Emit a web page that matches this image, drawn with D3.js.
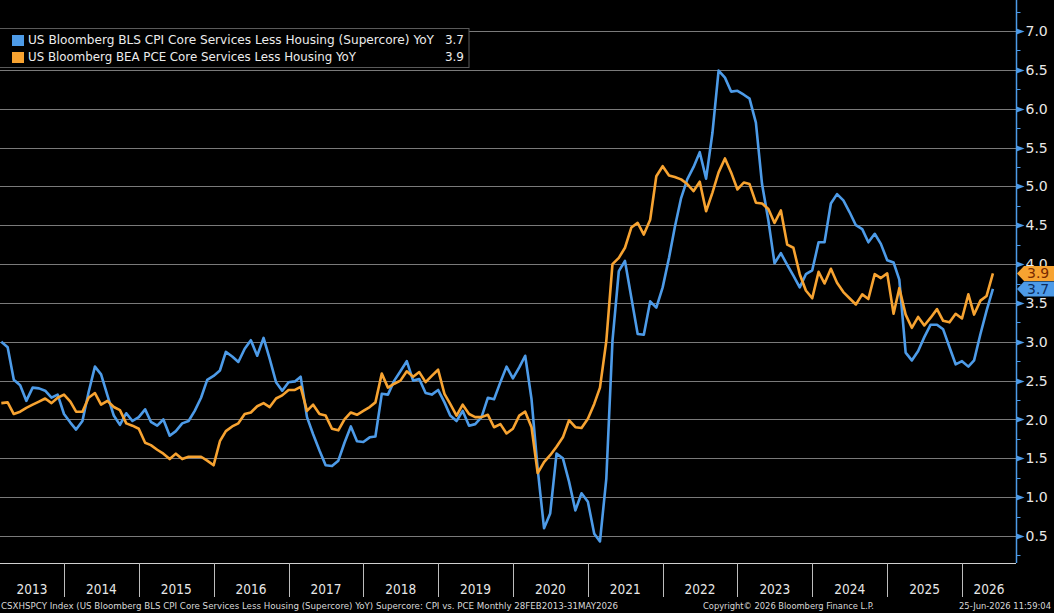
<!DOCTYPE html>
<html>
<head>
<meta charset="utf-8">
<script src="https://cdn.jsdelivr.net/npm/d3@7"></script>
<style>
  body { margin: 0; background: #000; }
  svg { display: block; }
</style>
</head>
<body>
<div id="chart"></div>
<script>
// monthly data, Feb 2013 .. May 2026
const firstMonth = new Date(Date.UTC(2013, 1, 1));
const cpiValues = [
  3.00, 2.93, 2.51, 2.44, 2.24, 2.41, 2.40, 2.37, 2.28, 2.32, 2.07,
  1.96, 1.87, 1.98, 2.35, 2.68, 2.58, 2.31, 2.05, 1.93, 2.08, 1.98, 2.03,
  2.13, 1.97, 1.92, 2.00, 1.79, 1.85, 1.95, 1.98, 2.11, 2.28, 2.51, 2.56,
  2.63, 2.87, 2.81, 2.74, 2.91, 3.02, 2.82, 3.05, 2.78, 2.48, 2.37, 2.48,
  2.49, 2.55, 2.03, 1.81, 1.60, 1.41, 1.40, 1.47, 1.70, 1.91, 1.72, 1.71,
  1.77, 1.78, 2.33, 2.32, 2.50, 2.62, 2.75, 2.50, 2.52, 2.34, 2.32, 2.38,
  2.22, 2.05, 1.98, 2.11, 1.92, 1.94, 2.03, 2.28, 2.26, 2.48, 2.68, 2.53,
  2.67, 2.82, 2.26, 1.36, 0.60, 0.79, 1.56, 1.50, 1.20, 0.83, 1.05, 0.94,
  0.53, 0.43, 1.24, 3.01, 3.91, 4.04, 3.57, 3.10, 3.09, 3.52, 3.44, 3.70,
  4.08, 4.47, 4.85, 5.09, 5.25, 5.44, 5.10, 5.69, 6.49, 6.40, 6.22, 6.23,
  6.18, 6.13, 5.82, 5.03, 4.56, 4.01, 4.14, 3.99, 3.85, 3.70, 3.87, 3.92,
  4.28, 4.28, 4.78, 4.90, 4.82, 4.67, 4.50, 4.45, 4.28, 4.39, 4.26, 4.05,
  4.02, 3.80, 2.86, 2.76, 2.88, 3.06, 3.22, 3.22, 3.16, 2.93, 2.71, 2.75,
  2.68, 2.76, 3.10, 3.40, 3.68
];
const pceValues = [
  2.21, 2.22, 2.07, 2.10, 2.15, 2.19, 2.23, 2.27, 2.21, 2.28, 2.32,
  2.23, 2.10, 2.10, 2.28, 2.34, 2.19, 2.24, 2.16, 2.12, 1.95, 1.92, 1.88,
  1.70, 1.67, 1.61, 1.56, 1.49, 1.56, 1.49, 1.52, 1.52, 1.52, 1.47, 1.41,
  1.72, 1.85, 1.91, 1.95, 2.07, 2.09, 2.17, 2.21, 2.16, 2.27, 2.31, 2.38,
  2.38, 2.42, 2.11, 2.19, 2.07, 2.05, 1.88, 1.86, 2.00, 2.09, 2.06, 2.11,
  2.16, 2.22, 2.59, 2.41, 2.46, 2.50, 2.62, 2.55, 2.61, 2.48, 2.56, 2.64,
  2.33, 2.20, 2.05, 2.19, 2.07, 2.03, 2.03, 2.06, 1.90, 1.94, 1.82, 1.88,
  2.05, 2.10, 1.90, 1.31, 1.45, 1.54, 1.65, 1.77, 1.99, 1.90, 1.89, 2.01,
  2.20, 2.41, 3.01, 4.00, 4.08, 4.21, 4.47, 4.53, 4.38, 4.57, 5.13, 5.26,
  5.14, 5.12, 5.09, 5.03, 4.94, 5.06, 4.68, 4.92, 5.18, 5.36, 5.18, 4.96,
  5.05, 5.03, 4.79, 4.78, 4.71, 4.53, 4.69, 4.25, 4.21, 3.87, 3.66, 3.56,
  3.90, 3.75, 3.94, 3.76, 3.64, 3.56, 3.48, 3.61, 3.55, 3.87, 3.82, 3.88,
  3.36, 3.69, 3.35, 3.18, 3.32, 3.21, 3.31, 3.42, 3.27, 3.25, 3.36, 3.30,
  3.61, 3.35, 3.53, 3.59, 3.88
];
const seriesNames = [
  "US Bloomberg BLS CPI Core Services Less Housing (Supercore) YoY",
  "US Bloomberg BEA PCE Core Services Less Housing YoY"
];
const seriesColors = ["#4d9be8", "#f7a331"];
const years = d3.range(2013, 2027);
const yTicks = d3.range(0.5, 7.01, 0.5);
const yMinorTicks = d3.range(0.25, 7.3, 0.25);
const footerLeft = "CSXHSPCY Index (US Bloomberg BLS CPI Core Services Less Housing (Supercore) YoY) Supercore: CPI vs. PCE Monthly 28FEB2013-31MAY2026";
const footerMid = "Copyright\u00A9 2026 Bloomberg Finance L.P.";
const footerRight = "25-Jun-2026 11:59:04";

const width = 1054, height = 613;
const plot = {left: 0, right: 1016, top: 0, bottom: 563};

// points sit at month end
const dates = cpiValues.map((d, i) => d3.utcMonth.offset(firstMonth, i + 1));
const series = [cpiValues, pceValues].map((vals, k) => ({
  name: seriesNames[k], color: seriesColors[k],
  values: vals.map((v, i) => ({date: dates[i], value: v}))
}));
const last = s => s.values[s.values.length - 1].value;

const x = d3.scaleUtc()
  .domain([new Date(Date.UTC(2014, 0, 1)), new Date(Date.UTC(2026, 0, 1))])
  .range([64, 962]);
const y = d3.scaleLinear()
  .domain([0.5, 7.0])
  .range([536, 31]);

const svg = d3.select("#chart").append("svg")
  .attr("width", width)
  .attr("height", height)
  .style("background", "#000");

const defs = svg.append("defs");
defs.append("clipPath").attr("id", "clip")
  .append("rect")
  .attr("x", plot.left).attr("y", plot.top)
  .attr("width", plot.right - plot.left).attr("height", plot.bottom - plot.top);

// grid
svg.append("g")
  .attr("stroke", "#7a7a7a")
  .attr("stroke-width", 1)
  .selectAll("line")
  .data(yTicks)
  .join("line")
  .attr("x1", plot.left)
  .attr("x2", plot.right)
  .attr("y1", d => Math.round(y(d)) + 0.5)
  .attr("y2", d => Math.round(y(d)) + 0.5);

// lines
const line = d3.line()
  .x(d => x(d.date))
  .y(d => y(d.value));

svg.append("g")
  .attr("clip-path", "url(#clip)")
  .selectAll("path")
  .data(series)
  .join("path")
  .attr("fill", "none")
  .attr("stroke", d => d.color)
  .attr("stroke-width", 2.6)
  .attr("stroke-linejoin", "round")
  .attr("d", d => line(d.values));

// bottom frame
svg.append("line")
  .attr("x1", plot.left).attr("x2", plot.right)
  .attr("y1", plot.bottom + 0.5).attr("y2", plot.bottom + 0.5)
  .attr("stroke", "#d0d0d0");

// year separators and labels
const yearEdges = years.slice(1).map(yr => new Date(Date.UTC(yr, 0, 1)));
svg.append("g")
  .attr("stroke", "#bdbdbd")
  .selectAll("line")
  .data(yearEdges)
  .join("line")
  .attr("x1", d => Math.round(x(d)) + 0.5)
  .attr("x2", d => Math.round(x(d)) + 0.5)
  .attr("y1", plot.bottom)
  .attr("y2", 597);

svg.append("g")
  .attr("font-family", "'DejaVu Sans Condensed', 'Liberation Sans Narrow', sans-serif")
  .attr("font-size", 13.5)
  .attr("fill", "#e8e8e8")
  .attr("text-anchor", "middle")
  .selectAll("text")
  .data(years)
  .join("text")
  .attr("x", yr => {
    const a = Math.max(plot.left, x(new Date(Date.UTC(yr, 0, 1))));
    const b = Math.min(plot.right, x(new Date(Date.UTC(yr + 1, 0, 1))));
    return (a + b) / 2;
  })
  .attr("y", 594)
  .text(d => d);

// right axis
const axis = svg.append("g")
  .attr("transform", `translate(${plot.right + 0.5},0)`);
axis.append("line")
  .attr("y1", 0).attr("y2", plot.bottom)
  .attr("stroke", "#4d9be8").attr("stroke-width", 1.5);
axis.append("g")
  .attr("stroke", "#4d9be8")
  .selectAll("line")
  .data(yMinorTicks)
  .join("line")
  .attr("x1", 0).attr("x2", 4)
  .attr("y1", d => Math.round(y(d)) + 0.5)
  .attr("y2", d => Math.round(y(d)) + 0.5);
axis.append("g")
  .attr("fill", "#4d9be8")
  .selectAll("path")
  .data(yTicks)
  .join("path")
  .attr("d", d => {
    const yy = Math.round(y(d)) + 0.5;
    return `M0,${yy - 3}L8,${yy}L0,${yy + 3}Z`;
  });
// a label sitting under a value tag only shows its top sliver
const tagBand = series.map(last);
defs.append("clipPath").attr("id", "tagclip")
  .append("rect")
  .attr("x", 0).attr("y", 0)
  .attr("width", 60)
  .attr("height", y(d3.max(tagBand)) - 7.5);
axis.append("g")
  .attr("font-family", "'DejaVu Sans', sans-serif")
  .attr("font-size", 14)
  .attr("fill", "#e8e8e8")
  .selectAll("text")
  .data(yTicks)
  .join("text")
  .attr("x", 9)
  .attr("y", d => y(d))
  .attr("dy", "0.36em")
  .attr("clip-path", d => tagBand.some(v => Math.abs(y(v) - y(d)) < 12) ? "url(#tagclip)" : null)
  .text(d3.format(".1f"));

// last value tags
const tagText = ["#0d2c5c", "#7a2a00"];
const tags = svg.append("g")
  .selectAll("g")
  .data(series)
  .join("g")
  .attr("transform", d => `translate(${plot.right + 1},${y(last(d))})`);
tags.append("path")
  .attr("fill", d => d.color)
  .attr("d", "M0,0L7,-7.5L38,-7.5L38,7.5L7,7.5Z");
tags.append("text")
  .attr("x", 10)
  .attr("dy", "0.36em")
  .attr("font-family", "'DejaVu Sans', sans-serif")
  .attr("font-size", 14)
  .attr("fill", (d, i) => tagText[i])
  .text(d => d3.format(".1f")(last(d)));

// legend
const legend = svg.append("g");
legend.append("rect")
  .attr("x", -1).attr("y", 28.5)
  .attr("width", 470).attr("height", 39)
  .attr("fill", "#000")
  .attr("stroke", "#5a5a5a");
const rows = legend.selectAll("g.row")
  .data(series)
  .join("g")
  .attr("class", "row")
  .attr("transform", (d, i) => `translate(0,${40 + i * 17})`);
rows.append("rect")
  .attr("x", 12).attr("y", -5)
  .attr("width", 12).attr("height", 11)
  .attr("fill", d => d.color);
rows.append("text")
  .attr("x", 28)
  .attr("dy", "0.36em")
  .attr("font-family", "'DejaVu Sans', sans-serif")
  .attr("font-size", 12)
  .attr("fill", "#ececec")
  .attr("textLength", (d, i) => i === 0 ? 406 : 328)
  .attr("lengthAdjust", "spacingAndGlyphs")
  .text(d => d.name);
rows.append("text")
  .attr("x", 464)
  .attr("dy", "0.36em")
  .attr("text-anchor", "end")
  .attr("font-family", "'DejaVu Sans', sans-serif")
  .attr("font-size", 12)
  .attr("fill", "#ececec")
  .text(d => d3.format(".1f")(last(d)));

// footer
const footer = svg.append("g")
  .attr("font-family", "'Liberation Sans Narrow', 'DejaVu Sans Condensed', sans-serif")
  .attr("font-size", 9.5)
  .attr("fill", "#d8d8d8");
footer.append("text").attr("x", 1).attr("y", 609)
  .attr("textLength", 617).attr("lengthAdjust", "spacingAndGlyphs")
  .text(footerLeft);
footer.append("text").attr("x", 703).attr("y", 609)
  .attr("textLength", 171).attr("lengthAdjust", "spacingAndGlyphs")
  .text(footerMid);
footer.append("text").attr("x", 1051).attr("y", 609)
  .attr("text-anchor", "end")
  .attr("textLength", 92).attr("lengthAdjust", "spacingAndGlyphs")
  .text(footerRight);
</script>
</body>
</html>
